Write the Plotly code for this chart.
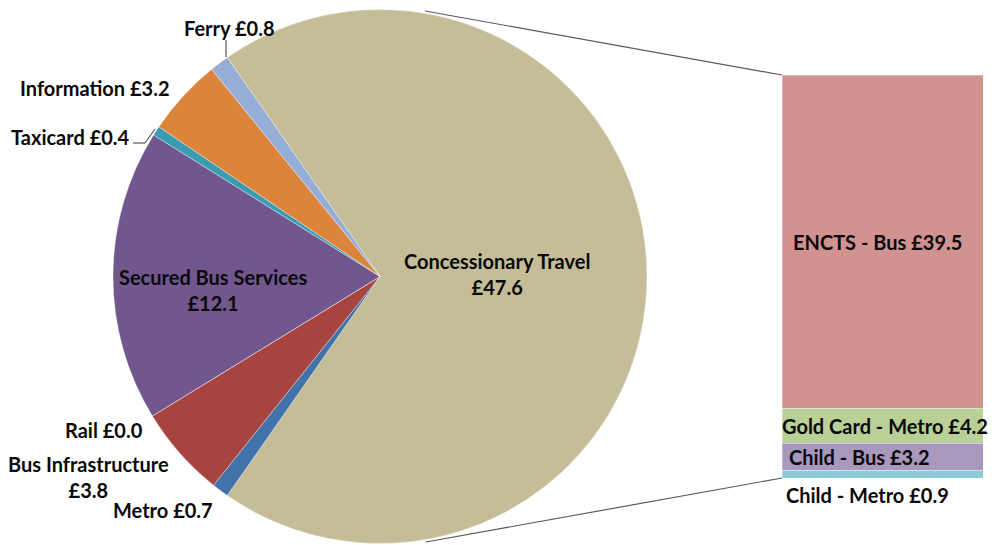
import plotly.graph_objects as go

# Pie: spending by category (£m), clockwise from the Concessionary Travel slice
pie_labels = ["Concessionary Travel", "Metro", "Bus Infrastructure", "Rail",
              "Secured Bus Services", "Taxicard", "Information", "Ferry"]
pie_values = [47.6, 0.7, 3.8, 0.0, 12.1, 0.4, 3.2, 0.8]
pie_colors = ["#C4BD97", "#4272AA", "#A7443F", "#C0504D",
              "#72578F", "#3A9CB3", "#DD843C", "#96AED5"]

# Bar: breakdown of Concessionary Travel (£m), bottom to top
bar_labels = ["Child - Metro", "Child - Bus", "Gold Card - Metro", "ENCTS - Bus"]
bar_values = [0.9, 3.2, 4.2, 39.5]
bar_colors = ["#8ECAD9", "#A998BE", "#B9D096", "#D19290"]

W, H = 996, 545
FONT = dict(family="Lato, 'Open Sans', Arial, sans-serif", size=20, color="#0a0a0a")

# Pie geometry in pixels
cx, cy, r = 380, 276.5, 267
total = sum(pie_values)
# centre the first slice on the right-hand side
rotation = 90 - 180 * pie_values[0] / total

fig = go.Figure()

fig.add_trace(go.Pie(
    labels=pie_labels,
    values=pie_values,
    sort=False,
    direction="clockwise",
    rotation=rotation,
    marker=dict(colors=pie_colors, line=dict(color="rgba(255,255,255,0.6)", width=0.6)),
    textinfo="none",
    hoverinfo="label+value",
    showlegend=False,
    domain=dict(x=[(cx - r) / W, (cx + r) / W], y=[(H - cy - r) / H, (H - cy + r) / H]),
))

# Stacked column for the concessionary breakdown
bar_x0, bar_x1 = 782, 983
bar_top, bar_bot = 75, 478
bar_total = sum(bar_values)
for lab, val, col in zip(bar_labels, bar_values, bar_colors):
    fig.add_trace(go.Bar(
        x=[0], y=[val], name=lab, width=1,
        marker=dict(color=col, line=dict(color="rgba(255,255,255,0.6)", width=0.5)),
        xaxis="x2", yaxis="y2", showlegend=False,
        hovertemplate=lab + ": £%{y}<extra></extra>",
    ))

fig.update_layout(
    width=W, height=H,
    margin=dict(l=0, r=0, t=0, b=0),
    paper_bgcolor="white", plot_bgcolor="white",
    barmode="stack",
    xaxis2=dict(domain=[bar_x0 / W, bar_x1 / W], range=[-0.5, 0.5],
                visible=False, anchor="y2"),
    yaxis2=dict(domain=[(H - bar_bot) / H, (H - bar_top) / H], range=[0, bar_total],
                visible=False, anchor="x2"),
    font=FONT,
)


def px(x, y):
    return x / W, 1 - y / H


# Pie labels
pie_text = [
    ("Concessionary Travel<br>£47.6", 497, 274),
    ("Secured Bus Services<br>£12.1", 213, 290),
    ("Ferry £0.8", 229, 28),
    ("Information £3.2", 95, 88),
    ("Taxicard £0.4", 70, 137),
    ("Rail £0.0", 104, 430),
    ("Bus Infrastructure<br>£3.8", 88, 477),
    ("Metro £0.7", 163, 510),
]
annotations = []
for txt, x, y in pie_text:
    ax, ay = px(x, y)
    annotations.append(dict(text="<b>" + txt + "</b>", x=ax, y=ay, xref="paper", yref="paper",
                            showarrow=False, xanchor="center", yanchor="middle",
                            align="center", font=FONT))

# Bar labels at each segment's middle
cum = 0
bar_mid = []
for v in bar_values:
    bar_mid.append(cum + v / 2)
    cum += v
shifts = {"ENCTS - Bus": -5, "Gold Card - Metro": 2, "Child - Bus": -23}
for lab, val, mid in zip(bar_labels, bar_values, bar_mid):
    if lab == "Child - Metro":
        annotations.append(dict(text=f"<b>{lab} £{val:.1f}</b>", x=0, y=0, xref="x2", yref="y2",
                                showarrow=False, xanchor="center", yanchor="top",
                                xshift=-15, yshift=-3, font=FONT))
    else:
        annotations.append(dict(text=f"<b>{lab} £{val:.1f}</b>", x=0, y=mid, xref="x2", yref="y2",
                                showarrow=False, xanchor="center", yanchor="middle",
                                xshift=shifts[lab], font=FONT))
fig.update_layout(annotations=annotations)

# Connector lines from the pie to the column, plus label leader lines
line_style = dict(color="#595959", width=1.2)
shapes = []
for (x0, y0), (x1, y1) in [((425, 11), (bar_x0, bar_top)),
                           ((426, 542), (bar_x0, bar_bot)),
                           ((226, 40), (226, 57)),
                           ((133, 143), (145, 143)),
                           ((145, 143), (155, 129))]:
    a0, b0 = px(x0, y0)
    a1, b1 = px(x1, y1)
    shapes.append(dict(type="line", xref="paper", yref="paper",
                       x0=a0, y0=b0, x1=a1, y1=b1, line=line_style))
fig.update_layout(shapes=shapes)

fig.write_html("out.html")
